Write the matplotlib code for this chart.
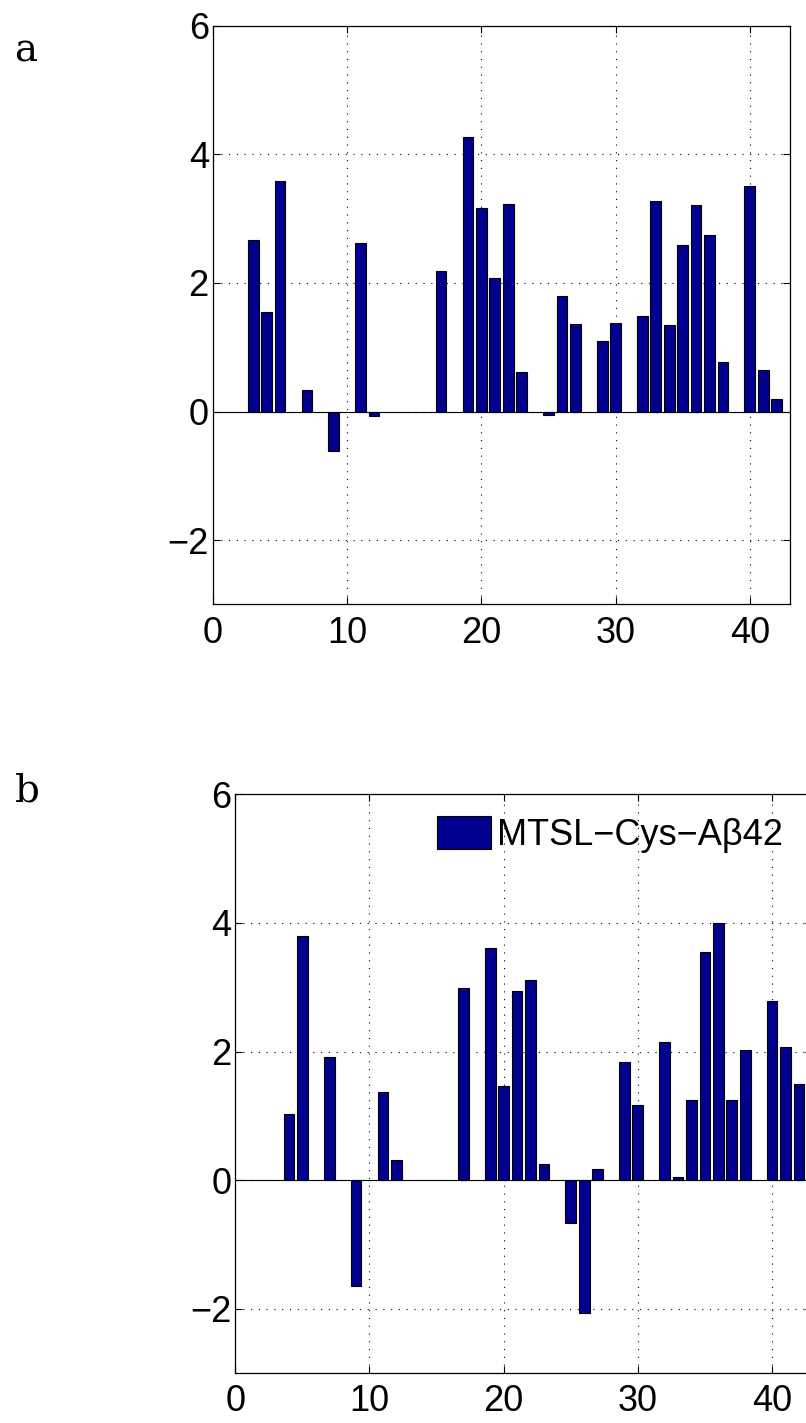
import matplotlib
matplotlib.use('Agg')
import matplotlib.pyplot as plt

plt.rcParams['font.family'] = ['Liberation Sans', 'DejaVu Sans']

# panel a
res_a = [3, 4, 5, 7, 9, 11, 12, 17, 19, 20, 21, 22, 23, 25, 26, 27, 29, 30,
         32, 33, 34, 35, 36, 37, 38, 40, 41, 42]
val_a = [2.67, 1.55, 3.58, 0.34, -0.62, 2.62, -0.07, 2.18, 4.27, 3.16, 2.08,
         3.22, 0.61, -0.05, 1.80, 1.36, 1.10, 1.38, 1.49, 3.27, 1.34, 2.59,
         3.21, 2.75, 0.77, 3.51, 0.64, 0.20]

# panel b
res_b = [4, 5, 7, 9, 11, 12, 17, 19, 20, 21, 22, 23, 25, 26, 27, 29, 30, 32,
         33, 34, 35, 36, 37, 38, 40, 41, 42]
val_b = [1.03, 3.79, 1.92, -1.64, 1.37, 0.31, 2.98, 3.61, 1.46, 2.94, 3.11,
         0.25, -0.67, -2.07, 0.18, 1.83, 1.17, 2.14, 0.05, 1.25, 3.55, 4.00,
         1.25, 2.03, 2.79, 2.07, 1.50]

legend_label = 'MTSL\u2212Cys\u2212A\u03b242'
xticks = [0, 10, 20, 30, 40]
yticks = [-2, 0, 2, 4, 6]

W, H = 806, 1423
fig = plt.figure(figsize=(W / 100, H / 100), dpi=100)

bar_color = '#00008F'
fs = 26


def panel(rect, res, val, letter, letter_xy, label=None):
    l, t, r, b = rect
    ax = fig.add_axes([l / W, 1 - b / H, (r - l) / W, (b - t) / H])
    ax.bar(res, val, width=0.8, color=bar_color, edgecolor='k',
           linewidth=0.8, zorder=3, label=label)
    ax.axhline(0, color='k', lw=0.8, zorder=2)
    ax.set_xlim(0, 43)
    ax.set_ylim(-3, 6)
    ax.set_xticks(xticks)
    ax.set_yticks(yticks)
    ax.grid(True, color='k', linestyle=(0, (1, 6)), linewidth=0.8)
    ax.set_axisbelow(True)
    ax.tick_params(direction='in', top=True, right=True, length=5,
                   width=0.8, labelsize=fs)
    ax.tick_params(axis='x', pad=8)
    ax.tick_params(axis='y', pad=3)
    for s in ax.spines.values():
        s.set_linewidth(0.9)
    fig.text(letter_xy[0] / W, 1 - letter_xy[1] / H, letter,
             family='DejaVu Serif', fontsize=28, ha='left', va='baseline')
    return ax


panel((213, 25.7, 790, 604.4), res_a, val_a, 'a', (14, 61))
axb = panel((235.3, 794.3, 812.3, 1373), res_b, val_b, 'b', (15, 802),
            label=legend_label)
axb.legend(loc='upper left', bbox_to_anchor=(437 / W, 1 - 816 / H),
           bbox_transform=fig.transFigure, frameon=False, fontsize=fs,
           handlelength=1.5, handleheight=1.05, handletextpad=0.15,
           borderpad=0, borderaxespad=0)

fig.savefig('out.png', dpi=100)
